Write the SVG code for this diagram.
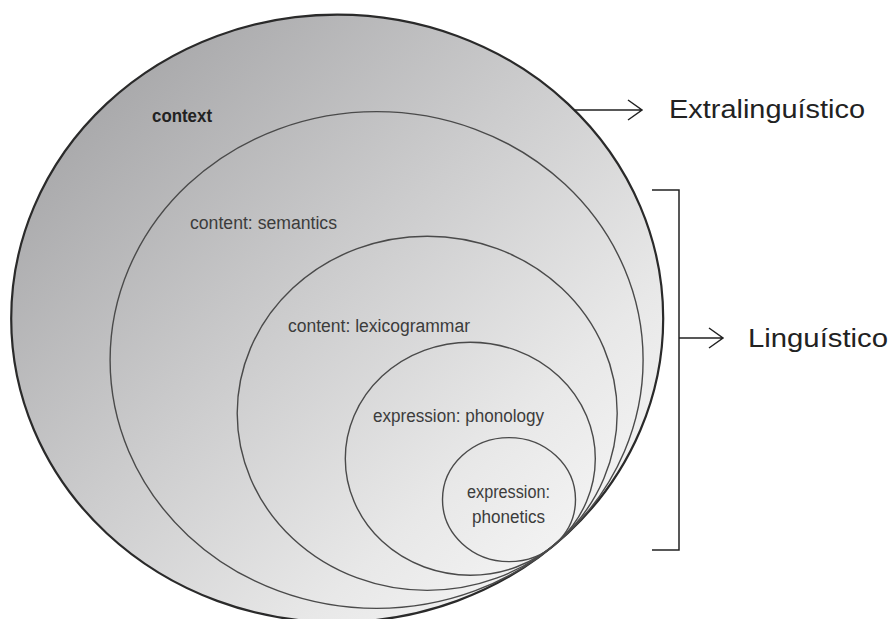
<svg xmlns="http://www.w3.org/2000/svg" width="890" height="619" viewBox="0 0 890 619">
  <defs>
    <linearGradient id="bg" gradientUnits="userSpaceOnUse" x1="110" y1="90" x2="560" y2="560">
      <stop offset="0" stop-color="#a9a9ab"/>
      <stop offset="0.45" stop-color="#cdcdce"/>
      <stop offset="0.8" stop-color="#e8e8e8"/>
      <stop offset="1" stop-color="#f3f3f3"/>
    </linearGradient>
  </defs>
  <style>
    .outer { fill: url(#bg); stroke: #2a2a2a; stroke-width: 2.2; }
    .ring { fill: none; stroke: #4a4a4a; stroke-width: 1.4; }
    .lbl { font-family: "Liberation Sans", Arial, sans-serif; font-size: 18px; fill: #3c3c3c; }
    .bold { font-weight: bold; fill: #222; }
    .side { font-family: "Liberation Sans", Arial, sans-serif; font-size: 26px; fill: #222; }
    .conn { fill: none; stroke: #222; stroke-width: 1.5; }
  </style>
  <rect width="890" height="619" fill="#ffffff"/>

  <g id="context">
    <ellipse class="outer" cx="337.2" cy="318.4" rx="326" ry="303.8"/>
    <text class="lbl bold" x="152" y="122" textLength="60" lengthAdjust="spacingAndGlyphs">context</text>
  </g>
  <g id="semantics">
    <ellipse class="ring" cx="376.6" cy="360" rx="266.5" ry="248.4"/>
    <text class="lbl" x="190" y="229" textLength="147" lengthAdjust="spacingAndGlyphs">content: semantics</text>
  </g>
  <g id="lexicogrammar">
    <ellipse class="ring" cx="427.2" cy="413.3" rx="190" ry="177.1"/>
    <text class="lbl" x="288" y="332" textLength="182" lengthAdjust="spacingAndGlyphs">content: lexicogrammar</text>
  </g>
  <g id="phonology">
    <ellipse class="ring" cx="470.3" cy="458.7" rx="125" ry="116.5"/>
    <text class="lbl" x="373" y="422" textLength="171" lengthAdjust="spacingAndGlyphs">expression: phonology</text>
  </g>
  <g id="phonetics">
    <ellipse class="ring" cx="509" cy="499.6" rx="66.5" ry="62"/>
    <text class="lbl" x="467" y="498" textLength="83" lengthAdjust="spacingAndGlyphs">expression:</text>
    <text class="lbl" x="472" y="523" textLength="73" lengthAdjust="spacingAndGlyphs">phonetics</text>
  </g>

  <g id="connectors">
    <path class="conn" d="M574,110 H642 M628,100 L642,110 L628,120"/>
    <path class="conn" d="M652,190 H679 V550 H652"/>
    <path class="conn" d="M679,338 H723 M709,328 L723,338 L709,348"/>
  </g>

  <g id="extralinguistico">
    <text class="side" x="669" y="118" textLength="196" lengthAdjust="spacingAndGlyphs">Extralinguístico</text>
  </g>
  <g id="linguistico">
    <text class="side" x="748" y="347" textLength="140" lengthAdjust="spacingAndGlyphs">Linguístico</text>
  </g>
</svg>
